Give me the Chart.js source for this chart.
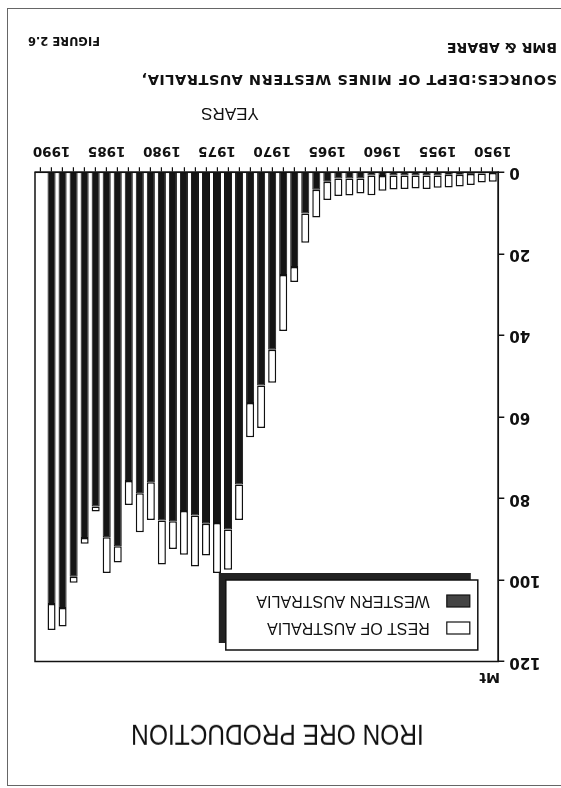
<!DOCTYPE html>
<html>
<head>
<meta charset="utf-8">
<script src="https://cdn.jsdelivr.net/npm/chart.js@4.4.1/dist/chart.umd.min.js"></script>
<style>
html, body { margin: 0; padding: 0; background: #fff; }
/* the scanned figure is upside down, so the whole page is turned round */
#page { position: relative; width: 561px; height: 788px; overflow: hidden; background: #fff; transform: rotate(180deg); }
#page canvas { position: absolute; left: 0; top: 0; }
.txt { position: absolute; white-space: nowrap; line-height: 1; color: #111; }
.bold { font-family: "DejaVu Sans", sans-serif; font-weight: bold; }
#edge { position: absolute; left: -5px; top: 2px; width: 558px; height: 776px;
        border-top: 1.5px solid #666; border-right: 1.5px solid #666; border-bottom: 1.5px solid #666; }
#title { left: 0; width: 567px; text-align: center; top: 42px; font-family: "Liberation Sans", Arial, sans-serif;
         font-size: 24.5px; transform: scaleY(1.2); }
#unit { left: 61px; top: 103px; font-size: 14px; }
#years { left: 231px; width: 200px; text-align: center; top: 666px; font-family: "Liberation Sans", Arial, sans-serif; font-size: 17px; }
#source { left: 4px; top: 701px; font-size: 14.5px; letter-spacing: 0.5px; }
#agency { left: 4px; top: 733px; font-size: 14px; }
#figure { left: 461px; top: 742px; font-size: 11.5px; }
</style>
</head>
<body>
<div id="page">
  <div id="edge"></div>
  <canvas id="ironChart" width="561" height="788"></canvas>
  <div class="txt" id="title">IRON ORE PRODUCTION</div>
  <div class="txt bold" id="unit">Mt</div>
  <div class="txt" id="years">YEARS</div>
  <div class="txt bold" id="source">SOURCES:DEPT OF MINES WESTERN AUSTRALIA,</div>
  <div class="txt bold" id="agency">BMR &amp; ABARE</div>
  <div class="txt bold" id="figure">FIGURE 2.6</div>
</div>
<script>
// Years on the axis (1991 slot is empty in the original)
const years = ['1950', '1951', '1952', '1953', '1954', '1955', '1956', '1957', '1958', '1959',
               '1960', '1961', '1962', '1963', '1964', '1965', '1966', '1967', '1968', '1969',
               '1970', '1971', '1972', '1973', '1974', '1975', '1976', '1977', '1978', '1979',
               '1980', '1981', '1982', '1983', '1984', '1985', '1986', '1987', '1988', '1989',
               '1990', '1991'];
const labelledYears = ['1950', '1955', '1960', '1965', '1970', '1975', '1980', '1985', '1990'];

// Production, Mt
const westernAustralia = [0.0, 0.3, 0.4, 0.6, 0.6, 0.8, 0.8, 0.8, 0.8, 0.8,
                          0.9, 0.8, 1.5, 1.5, 1.5, 2.3, 4.3, 10.1, 23.2, 25.2,
                          43.5, 52.3, 56.6, 76.6, 87.6, 86.0, 86.2, 84.2, 83.1, 85.6,
                          85.4, 76.0, 78.7, 75.7, 91.7, 89.5, 82.0, 89.7, 99.2, 106.9,
                          105.9, null];
const restOfAustralia = [2.3, 2.2, 2.7, 2.9, 3.1, 3.0, 3.3, 3.2, 3.3, 3.4,
                         3.6, 4.8, 3.7, 4.2, 4.3, 4.5, 6.8, 7.2, 3.7, 13.7,
                         8.1, 10.4, 8.4, 8.7, 9.9, 12.3, 7.8, 12.5, 10.7, 6.8,
                         10.8, 9.3, 9.6, 5.9, 4.0, 8.8, 1.2, 1.4, 1.5, 4.5,
                         6.4, null];
const yTicks = [0, 20, 40, 60, 80, 100, 120];

const ink = '#111';

// Box round the plot area
const plotFrame = {
    id: 'plotFrame',
    afterDatasetsDraw(chart) {
        const a = chart.chartArea, ctx = chart.ctx;
        ctx.save();
        ctx.strokeStyle = ink;
        ctx.lineWidth = 1.5;
        ctx.strokeRect(a.left, a.top, a.right - a.left, a.bottom - a.top);
        ctx.restore();
    }
};

// Legend box with a drop shadow, top left inside the plot
const boxLegend = {
    id: 'boxLegend',
    afterDraw(chart) {
        const a = chart.chartArea, ctx = chart.ctx;
        const x = a.left + 20.5, y = a.top + 11.5, w = 252, h = 70;
        ctx.save();
        ctx.fillStyle = '#222';
        ctx.fillRect(x + 7, y + 7, w, h);
        ctx.fillStyle = '#fff';
        ctx.fillRect(x, y, w, h);
        ctx.strokeStyle = ink;
        ctx.lineWidth = 1.5;
        ctx.strokeRect(x, y, w, h);
        ctx.font = '16px "Liberation Sans", Arial, sans-serif';
        ctx.textBaseline = 'middle';
        chart.data.datasets.slice().reverse().forEach(function(ds, i) {
            const cy = y + 22 + i * 27;
            ctx.fillStyle = ds.legendColor;
            ctx.fillRect(x + 8, cy - 6, 23, 12);
            ctx.lineWidth = 1.2;
            ctx.strokeRect(x + 8, cy - 6, 23, 12);
            ctx.fillStyle = ink;
            ctx.fillText(ds.label, x + 48, cy + 1);
        });
        ctx.restore();
    }
};

const ctx = document.getElementById('ironChart').getContext('2d');
new Chart(ctx, {
    type: 'bar',
    data: {
        labels: years,
        datasets: [{
            label: 'WESTERN AUSTRALIA',
            data: westernAustralia,
            backgroundColor: '#151515',
            legendColor: '#444',
            borderColor: ink,
            borderWidth: 1,
            barPercentage: 0.73,
            categoryPercentage: 1.0
        }, {
            label: 'REST OF AUSTRALIA',
            data: restOfAustralia,
            backgroundColor: '#fff',
            legendColor: '#fff',
            borderColor: ink,
            borderWidth: 1.5,
            borderSkipped: false,
            barPercentage: 0.73,
            categoryPercentage: 1.0
        }]
    },
    options: {
        responsive: false,
        animation: false,
        layout: {
            padding: { left: 0, right: 35, top: 126.5, bottom: 132.3 }
        },
        plugins: {
            legend: { display: false },
            tooltip: { enabled: false }
        },
        scales: {
            x: {
                stacked: true,
                offset: true,
                grid: { offset: false, drawOnChartArea: false, tickLength: 5, color: ink, lineWidth: 1.2 },
                border: { display: true, color: ink, width: 1.5 },
                ticks: {
                    autoSkip: false,
                    maxRotation: 0,
                    padding: 9,
                    color: ink,
                    font: { family: 'DejaVu Sans', weight: 'bold', size: 13.5 },
                    callback: function(value) {
                        const year = this.getLabelForValue(value);
                        return labelledYears.includes(year) ? year : '';
                    }
                },
                afterFit: function(scale) { scale.height = 40; }
            },
            y: {
                stacked: true,
                min: yTicks[0],
                max: yTicks[yTicks.length - 1],
                grid: { drawOnChartArea: false, tickLength: 6, color: ink, lineWidth: 1.5 },
                border: { display: true, color: ink, width: 1.5 },
                afterBuildTicks: function(scale) {
                    scale.ticks = yTicks.map(v => ({ value: v }));
                },
                ticks: {
                    padding: 5,
                    color: ink,
                    font: { family: 'DejaVu Sans', weight: 'bold', size: 15 }
                },
                afterFit: function(scale) { scale.width = 62.7; }
            }
        }
    },
    plugins: [plotFrame, boxLegend]
});
</script>
</body>
</html>
